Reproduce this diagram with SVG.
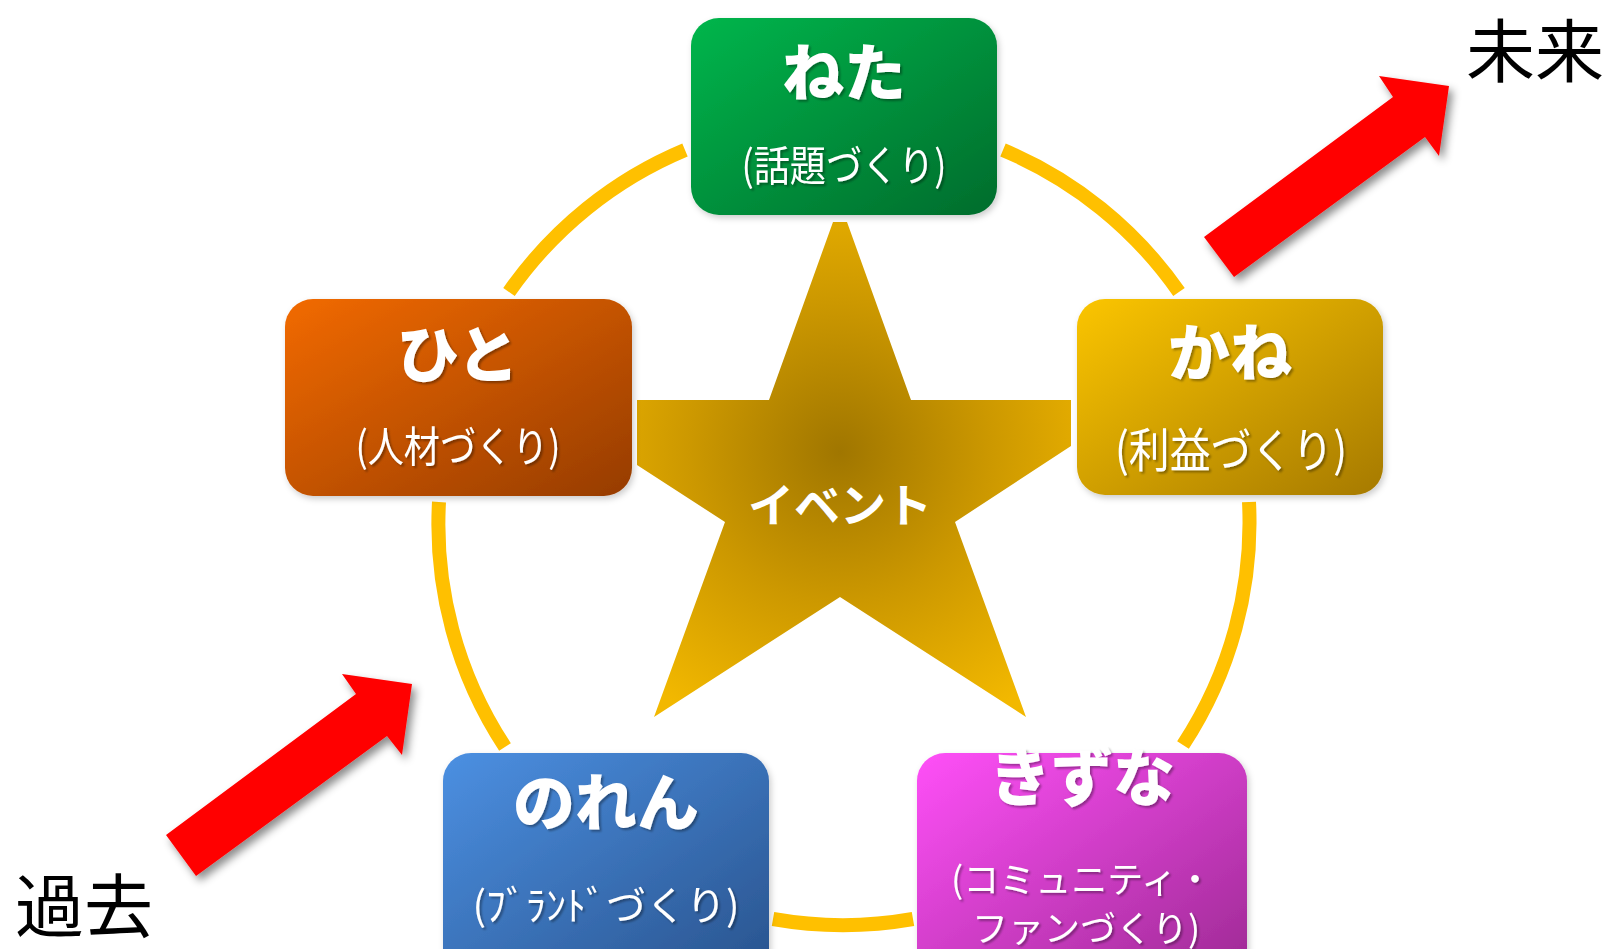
<svg xmlns="http://www.w3.org/2000/svg" width="1610" height="949" viewBox="0 0 1610 949">
<style>
.title{font-family:"Noto Sans CJK JP","Noto Sans",sans-serif;font-weight:900;font-size:62px;fill:#fff;text-anchor:middle}
.sub{font-family:"Noto Sans CJK JP","Noto Sans",sans-serif;font-weight:400;fill:#fff;text-anchor:middle}
.big{font-family:"Noto Sans CJK JP","Noto Sans",sans-serif;font-weight:400;font-size:69px;fill:#000}
.ring{fill:none;stroke:#FFC000;stroke-width:14;stroke-linecap:butt}
.arrow{fill:#FF0000;filter:url(#ashadow)}
</style>
<defs>
<linearGradient id="gGreen" x1="0" y1="0" x2="1" y2="1"><stop offset="0" stop-color="#03B64C"/><stop offset="1" stop-color="#006C2C"/></linearGradient>
<linearGradient id="gOrange" x1="0" y1="0" x2="1" y2="1"><stop offset="0" stop-color="#F26A00"/><stop offset="1" stop-color="#963C00"/></linearGradient>
<linearGradient id="gGold" x1="0" y1="0" x2="1" y2="1"><stop offset="0" stop-color="#FBC500"/><stop offset="1" stop-color="#A67A00"/></linearGradient>
<linearGradient id="gBlue" x1="0" y1="0" x2="1" y2="1"><stop offset="0" stop-color="#4C90E2"/><stop offset="1" stop-color="#28528C"/></linearGradient>
<linearGradient id="gPink" x1="0" y1="0" x2="1" y2="1"><stop offset="0" stop-color="#FF50F8"/><stop offset="1" stop-color="#9C2992"/></linearGradient>
<radialGradient id="gStar" gradientUnits="userSpaceOnUse" cx="840" cy="452" r="300"><stop offset="0" stop-color="#A07600"/><stop offset="0.5" stop-color="#CC9800"/><stop offset="1" stop-color="#F2B800"/></radialGradient>
<filter id="ashadow" x="-20%" y="-20%" width="150%" height="150%"><feDropShadow dx="4" dy="5" stdDeviation="4" flood-color="#000" flood-opacity="0.45"/></filter>
<filter id="tshadow" x="-10%" y="-10%" width="130%" height="130%"><feDropShadow dx="2" dy="2" stdDeviation="1.2" flood-color="#000" flood-opacity="0.35"/></filter>
<filter id="bshadow" x="-10%" y="-10%" width="130%" height="130%"><feDropShadow dx="2" dy="3" stdDeviation="3" flood-color="#000" flood-opacity="0.2"/></filter>
</defs>
<rect width="1610" height="949" fill="#fff"/>
<g id="connectors">
<path class="ring" d="M 509 292 A 405 405 0 0 1 685 150"/>
<path class="ring" d="M 1003 150 A 405 405 0 0 1 1179 292"/>
<path class="ring" d="M 1249 502 A 405 405 0 0 1 1183 745"/>
<path class="ring" d="M 913 919 A 405 405 0 0 1 773 919"/>
<path class="ring" d="M 505 747 A 405 405 0 0 1 439 502"/>
</g>
<g id="star">
<polygon points="833,222 847,222 911,400 1071,400 1071,446 955,522 1026,717 840,597 654,717 725,522 637,465 637,400 769,400" fill="url(#gStar)"/>
<text x="840" y="522" font-family="'Noto Sans CJK JP',sans-serif" font-weight="700" font-size="46" fill="#fff" text-anchor="middle">イベント</text>
</g>
<g id="neta">
<rect x="691" y="18" width="306" height="197" rx="28" fill="url(#gGreen)" filter="url(#bshadow)"/>
<text class="title" x="844" y="96" filter="url(#tshadow)">ねた</text>
<text class="sub" x="844" y="181" font-size="42" textLength="205" lengthAdjust="spacingAndGlyphs" filter="url(#tshadow)">(話題づくり)</text>
</g>
<g id="hito">
<rect x="285" y="299" width="347" height="197" rx="28" fill="url(#gOrange)" filter="url(#bshadow)"/>
<text class="title" x="458" y="378" filter="url(#tshadow)">ひと</text>
<text class="sub" x="458" y="462" font-size="42" textLength="205" lengthAdjust="spacingAndGlyphs" filter="url(#tshadow)">(人材づくり)</text>
</g>
<g id="kane">
<rect x="1077" y="299" width="306" height="196" rx="28" fill="url(#gGold)" filter="url(#bshadow)"/>
<text class="title" x="1230" y="376" filter="url(#tshadow)">かね</text>
<text class="sub" x="1231" y="467" font-size="47" textLength="232" lengthAdjust="spacingAndGlyphs" filter="url(#tshadow)">(利益づくり)</text>
</g>
<g id="noren">
<rect x="443" y="753" width="326" height="230" rx="28" fill="url(#gBlue)" filter="url(#bshadow)"/>
<text class="title" x="606" y="826" filter="url(#tshadow)">のれん</text>
<text class="sub" x="606" y="920" font-size="40" filter="url(#tshadow)">(ﾌﾞﾗﾝﾄﾞづくり)</text>
</g>
<g id="kizuna">
<rect x="917" y="753" width="330" height="230" rx="28" fill="url(#gPink)" filter="url(#bshadow)"/>
<text class="title" x="1082" y="801" filter="url(#tshadow)">きずな</text>
<text class="sub" x="1082" y="893" font-size="36" filter="url(#tshadow)">(コミュニティ・</text>
<text class="sub" x="1086" y="942" font-size="36" filter="url(#tshadow)">ファンづくり)</text>
</g>
<g id="arrow-future">
<polygon class="arrow" points="1204,237 1393,97 1379,76 1449,86 1439,156 1425,137 1234,277"/>
<text class="big" x="1466" y="77" font-size="66">未来</text>
</g>
<g id="arrow-past">
<polygon class="arrow" points="166,835 356,694 342,674 412,684 402,755 387,736 196,876"/>
<text class="big" x="15" y="932">過去</text>
</g>
</svg>
